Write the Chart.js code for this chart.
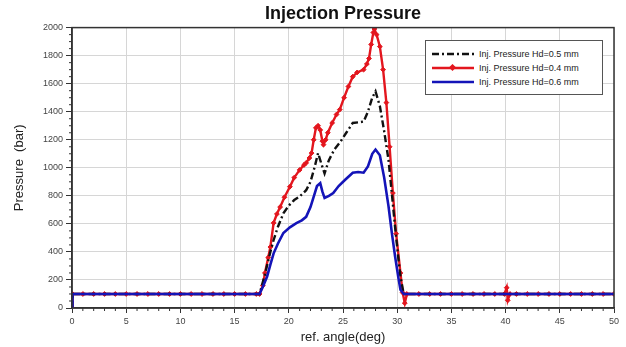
<!DOCTYPE html>
<html>
<head>
<meta charset="utf-8">
<script src="https://cdn.jsdelivr.net/npm/chart.js@4"></script>
<style>
  html, body { margin: 0; padding: 0; background: #fff; }
  #wrap { position: relative; width: 626px; height: 347px; }
  #legend {
    position: absolute; left: 425px; top: 40px; width: 178px; height: 55px;
    border: 1.5px solid #555; background: #fff;
    font-family: "Liberation Sans", Arial, sans-serif; font-size: 9px; color: #222;
    padding-top: 6px; box-sizing: border-box;
  }
  #legend .row { display: flex; align-items: center; height: 14px; }
  #legend svg { margin-left: 6px; margin-right: 5px; }
</style>
</head>
<body>
<div id="wrap">
  <canvas id="c" width="626" height="347"></canvas>
  <div id="legend"></div>
</div>
<script>
// ==========================================
// DATA
// ==========================================
const xTicks = [0, 5, 10, 15, 20, 25, 30, 35, 40, 45, 50];
const yTicks = [0, 200, 400, 600, 800, 1000, 1200, 1400, 1600, 1800, 2000];

const seriesNames = ['Inj. Pressure Hd=0.5 mm', 'Inj. Pressure Hd=0.4 mm', 'Inj. Pressure Hd=0.6 mm'];

// Hd=0.5 mm (black dash-dot)
const hd05 = [
  [0, 0], [0.05, 100], [17.3, 100], [17.8, 240], [18.3, 400], [18.6, 485], [19.0, 580], [19.5, 675],
  [20.0, 730], [20.5, 770], [21.0, 795], [21.6, 840], [22.0, 900], [22.4, 1010], [22.7, 1105],
  [23.0, 1030], [23.3, 960], [23.7, 1055], [24.2, 1130], [24.8, 1190], [25.3, 1250], [25.9, 1320],
  [26.5, 1325], [26.9, 1330], [27.3, 1400], [27.7, 1500], [28.0, 1545], [28.4, 1440], [28.8, 1260],
  [29.2, 1055], [29.5, 820], [29.8, 580], [30.1, 360], [30.3, 225], [30.6, 100], [50, 100]
];

// Hd=0.4 mm (red with markers)
const hd04 = [
  [0, 0], [0.05, 100], [1, 100], [2, 100], [3, 100], [4, 100], [5, 100], [6, 100], [7, 100], [8, 100],
  [9, 100], [10, 100], [11, 100], [12, 100], [13, 100], [14, 100], [15, 100], [16, 100], [17, 100],
  [17.3, 100], [17.6, 160], [17.8, 250], [18.1, 360], [18.3, 435], [18.6, 607], [18.9, 670], [19.2, 720],
  [19.6, 790], [20.1, 865], [20.5, 930], [21.0, 985], [21.4, 1020], [21.6, 1035], [21.9, 1070],
  [22.1, 1105], [22.3, 1200], [22.5, 1285], [22.7, 1300], [22.9, 1270], [23.1, 1190], [23.2, 1165],
  [23.4, 1200], [23.6, 1250], [24.0, 1320], [24.4, 1380], [24.7, 1415], [25.1, 1500], [25.5, 1580],
  [25.9, 1650], [26.3, 1680], [26.9, 1700], [27.2, 1740], [27.4, 1780], [27.6, 1880], [27.8, 1965],
  [27.9, 1990], [28.1, 1950], [28.4, 1865], [28.7, 1700], [29.0, 1465], [29.3, 1150], [29.6, 820],
  [29.9, 530], [30.3, 250], [30.5, 110], [30.7, 35], [30.9, 100], [32, 100], [33, 100], [34, 100],
  [35, 100], [36, 100], [37, 100], [38, 100], [39, 100], [39.9, 100], [40.1, 145], [40.2, 55],
  [40.4, 100], [41, 100], [42, 100], [43, 100], [44, 100], [45, 100], [46, 100], [47, 100], [48, 100],
  [49, 100], [50, 100]
];

// Hd=0.6 mm (blue)
const hd06 = [
  [0, 0], [0.05, 100], [17.3, 100], [17.6, 150], [18.0, 225], [18.3, 310], [18.6, 390], [19.0, 460],
  [19.5, 535], [20.1, 575], [20.7, 605], [21.2, 625], [21.6, 650], [22.0, 720], [22.4, 820], [22.6, 870],
  [22.9, 890], [23.1, 830], [23.3, 785], [23.7, 800], [24.1, 820], [24.6, 870], [25.2, 915], [25.9, 965],
  [26.4, 970], [26.9, 965], [27.3, 1010], [27.7, 1100], [28.0, 1130], [28.4, 1090], [28.8, 930],
  [29.2, 725], [29.5, 540], [29.8, 370], [30.1, 220], [30.3, 130], [30.6, 100], [50, 100]
];

const toXY = arr => arr.map(p => ({ x: p[0], y: p[1] }));

const FONT = '"Liberation Sans", Arial, sans-serif';
const colBlack = '#111111';
const colRed = '#e3161e';
const colBlue = '#1414b8';

// ==========================================
// PLUGINS: frame + minor ticks
// ==========================================
const framePlugin = {
  id: 'frame',
  afterDraw(chart) {
    const { ctx, chartArea: a, scales } = chart;
    ctx.save();
    ctx.strokeStyle = '#333';
    ctx.lineWidth = 1.5;
    ctx.strokeRect(a.left, a.top, a.right - a.left, a.bottom - a.top);
    // minor ticks
    ctx.lineWidth = 1;
    ctx.beginPath();
    for (let v = 0; v <= 50; v += 1) {
      if (v % 5 === 0) continue;
      const px = scales.x.getPixelForValue(v);
      ctx.moveTo(px, a.bottom);
      ctx.lineTo(px, a.bottom + 3);
    }
    for (let v = 0; v <= 2000; v += 50) {
      if (v % 200 === 0) continue;
      const py = scales.y.getPixelForValue(v);
      ctx.moveTo(a.left, py);
      ctx.lineTo(a.left - 3, py);
    }
    ctx.stroke();
    ctx.restore();
  }
};

const ctx = document.getElementById('c').getContext('2d');
new Chart(ctx, {
  type: 'line',
  data: {
    datasets: [
      { label: seriesNames[2], data: toXY(hd06), borderColor: colBlue, borderWidth: 2.6, pointRadius: 0, tension: 0 },
      { label: seriesNames[0], data: toXY(hd05), borderColor: colBlack, borderWidth: 2.4, borderDash: [7, 3, 2, 3], pointRadius: 0, tension: 0 },
      { label: seriesNames[1], data: toXY(hd04), borderColor: colRed, borderWidth: 2.4, pointRadius: 2.4,
        pointStyle: 'rectRot', pointBackgroundColor: colRed, pointBorderColor: colRed, pointBorderWidth: 1, tension: 0 }
    ]
  },
  options: {
    responsive: false, animation: false,
    layout: { padding: { left: 12, right: 12, top: 0, bottom: 2 } },
    plugins: {
      legend: { display: false },
      tooltip: { enabled: false },
      title: {
        display: true, fullSize: false, text: 'Injection Pressure', color: '#111',
        font: { family: FONT, size: 18, weight: 'bold' }, padding: { top: 3, bottom: 3 }
      }
    },
    scales: {
      x: {
        type: 'linear', min: 0, max: 50,
        afterBuildTicks: s => { s.ticks = xTicks.map(v => ({ value: v })); },
        ticks: { color: '#444', font: { family: FONT, size: 9 }, padding: 3, maxRotation: 0 },
        grid: { color: '#d6d6d6', lineWidth: 1, tickLength: 5, tickColor: '#333' },
        border: { color: '#333', width: 1.5 },
        title: { display: true, text: 'ref. angle(deg)', color: '#222', font: { family: FONT, size: 13 }, padding: { top: 0, bottom: 0 } },
        afterFit: s => { s.height = 37; }
      },
      y: {
        min: 0, max: 2000,
        afterBuildTicks: s => { s.ticks = yTicks.map(v => ({ value: v })); },
        ticks: { color: '#444', font: { family: FONT, size: 9 }, padding: 3, callback: v => String(v) },
        grid: { color: '#d6d6d6', lineWidth: 1, tickLength: 6, tickColor: '#333' },
        border: { color: '#333', width: 1.5 },
        title: { display: true, text: 'Pressure  (bar)', color: '#222', font: { family: FONT, size: 13 }, padding: { top: 0, bottom: 4 } },
        afterFit: s => { s.width = 60; }
      }
    }
  },
  plugins: [framePlugin]
});

// ==========================================
// LEGEND (HTML)
// ==========================================
const legendItems = [
  { name: seriesNames[0], color: colBlack, dash: '7 3 2 3', marker: false },
  { name: seriesNames[1], color: colRed, dash: '', marker: true },
  { name: seriesNames[2], color: colBlue, dash: '', marker: false }
];
const legendEl = document.getElementById('legend');
legendItems.forEach(it => {
  const row = document.createElement('div');
  row.className = 'row';
  row.innerHTML =
    '<svg width="42" height="8"><line x1="0" y1="4" x2="42" y2="4" stroke="' + it.color + '" stroke-width="2.5"' +
    (it.dash ? ' stroke-dasharray="' + it.dash + '"' : '') + '/>' +
    (it.marker ? '<rect x="18" y="1" width="5" height="5" fill="' + it.color + '" transform="rotate(45 20.5 3.5)"/>' : '') +
    '</svg><span>' + it.name + '</span>';
  legendEl.appendChild(row);
});
</script>
</body>
</html>
